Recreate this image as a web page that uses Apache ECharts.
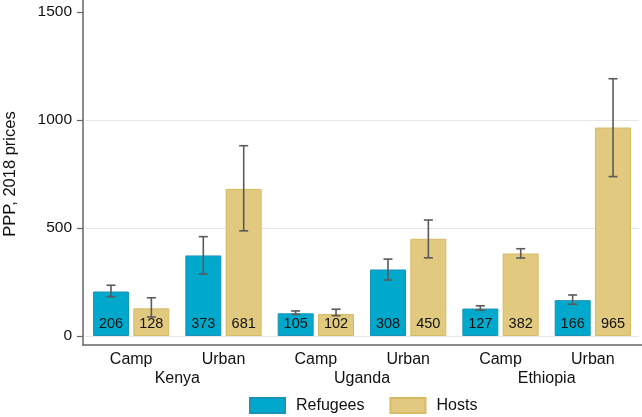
<!DOCTYPE html>
<html>
<head>
<meta charset="utf-8">
<script src="https://cdn.jsdelivr.net/npm/echarts@6/dist/echarts.min.js"></script>
<style>
  html, body { margin: 0; padding: 0; background: #fff; }
  #chart { width: 642px; height: 417px; }
</style>
</head>
<body>
<div id="chart"></div>
<script>
// categories
const settings = ['Camp', 'Urban', 'Camp', 'Urban', 'Camp', 'Urban'];
const countries = ['Kenya', 'Uganda', 'Ethiopia'];
const yTicks = [0, 500, 1000, 1500];

// mean consumption (PPP, 2018 prices)
const refugees = [206, 373, 105, 308, 127, 166];
const hosts = [128, 681, 102, 450, 382, 965];

// confidence intervals, [low, high]
const refugeesCI = [[182, 235], [287, 460], [100, 116], [259, 356], [120, 140], [147, 190]];
const hostsCI = [[88, 177], [487, 881], [94, 124], [362, 537], [361, 404], [738, 1191]];

const font = "'Liberation Sans', Arial, sans-serif";
const textColor = '#111';
const axisColor = '#666';

const chart = echarts.init(document.getElementById('chart'));

// draws one error bar per category, shifted onto its bar
function errorBars(ci, off, name) {
     return {
          name: name,
          type: 'custom',
          xAxisIndex: 0,
          yAxisIndex: 0,
          z: 3,
          data: ci.map((d, i) => [i, d[0], d[1]]),
          encode: { x: 0, y: [1, 2] },
          renderItem: (params, api) => {
               const lo = api.coord([api.value(0), api.value(1)]);
               const hi = api.coord([api.value(0), api.value(2)]);
               const x = lo[0] + off;
               const cap = 4.5;
               const style = { stroke: '#5a5a5a', lineWidth: 1.6 };
               return {
                    type: 'group',
                    children: [
                         { type: 'line', shape: { x1: x, y1: lo[1], x2: x, y2: hi[1] }, style },
                         { type: 'line', shape: { x1: x - cap, y1: lo[1], x2: x + cap, y2: lo[1] }, style },
                         { type: 'line', shape: { x1: x - cap, y1: hi[1], x2: x + cap, y2: hi[1] }, style },
                    ],
               };
          },
     };
}

const barLabel = {
     show: true,
     position: 'insideBottom',
     distance: 5,
     fontSize: 14.5,
     fontFamily: font,
     color: textColor,
};

const option = {
     backgroundColor: '#ffffff',
     animation: false,
     textStyle: { fontFamily: font },
     grid: [
          // plot area
          { left: 85, right: 3, top: 12, bottom: 81, outerBoundsMode: 'none' },
          // outer frame (axis lines)
          { left: 83, right: 0, top: 0, bottom: 72, outerBoundsMode: 'none' },
     ],
     legend: {
          data: ['Refugees', 'Hosts'],
          icon: 'rect',
          left: 249,
          top: 397,
          padding: 0,
          itemWidth: 35,
          itemHeight: 15,
          itemGap: 25,
          textStyle: { fontSize: 16, color: textColor, fontFamily: font, padding: [0, 0, 0, 6] },
     },
     xAxis: [
          {
               type: 'category',
               gridIndex: 0,
               data: settings,
               axisLine: { show: false },
               axisTick: { show: false },
               axisLabel: { fontSize: 16, color: textColor, margin: 16 },
          },
          {
               type: 'category',
               gridIndex: 0,
               position: 'bottom',
               offset: 19,
               data: countries,
               axisLine: { show: false },
               axisTick: { show: false },
               axisLabel: { fontSize: 16, color: textColor, margin: 16 },
          },
          {
               type: 'value',
               gridIndex: 1,
               min: 0,
               max: 1,
               axisLine: { show: true, lineStyle: { color: axisColor, width: 1.5 } },
               axisTick: { show: false },
               axisLabel: { show: false },
               splitLine: { show: false },
          },
     ],
     yAxis: [
          {
               type: 'value',
               gridIndex: 0,
               min: yTicks[0],
               max: yTicks[yTicks.length - 1],
               interval: 500,
               offset: 2,
               name: 'PPP, 2018 prices',
               nameLocation: 'middle',
               nameGap: 64,
               nameTextStyle: { fontSize: 16.5, color: textColor, fontFamily: font },
               axisLine: { show: false },
               axisTick: { show: true, length: 6, lineStyle: { color: axisColor, width: 1.2 } },
               axisLabel: { fontSize: 15.5, color: textColor, margin: 11, formatter: (v) => String(v) },
               splitLine: { show: true, showMaxLine: false, lineStyle: { color: '#e6e6e6', width: 1.2 } },
          },
          {
               type: 'value',
               gridIndex: 1,
               min: 0,
               max: 1,
               axisLine: { show: true, lineStyle: { color: axisColor, width: 1.5 } },
               axisTick: { show: false },
               axisLabel: { show: false },
               splitLine: { show: false },
          },
     ],
     series: [
          {
               name: 'Refugees',
               type: 'bar',
               xAxisIndex: 0,
               yAxisIndex: 0,
               data: refugees,
               barWidth: 36,
               barGap: '12%',
               itemStyle: { color: '#00a9cc', borderColor: '#1b93b8', borderWidth: 1 },
               label: barLabel,
          },
          {
               name: 'Hosts',
               type: 'bar',
               xAxisIndex: 0,
               yAxisIndex: 0,
               data: hosts,
               barWidth: 36,
               itemStyle: { color: '#e1c97f', borderColor: '#d7bb62', borderWidth: 1 },
               label: barLabel,
          },
          errorBars(refugeesCI, -20.2, 'Refugees CI'),
          errorBars(hostsCI, 20.2, 'Hosts CI'),
     ],
};

chart.setOption(option);
</script>
</body>
</html>
